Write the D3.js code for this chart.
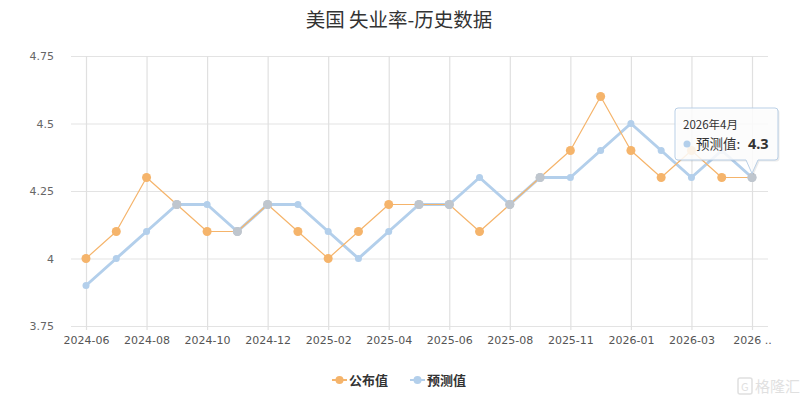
<!DOCTYPE html>
<html><head><meta charset="utf-8">
<script src="https://cdn.jsdelivr.net/npm/d3@7"></script>
<style>
html,body{margin:0;padding:0;background:#fff;}
svg{display:block;font-family:"Noto Sans CJK SC","Noto Sans",sans-serif;}
</style></head>
<body><svg id="c" width="800" height="404"></svg>
<script>
const title = "美国 失业率-历史数据";
const categories = ["2024-06","2024-07","2024-08","2024-09","2024-10","2024-11","2024-12",
  "2025-01","2025-02","2025-03","2025-04","2025-05","2025-06","2025-07","2025-08","2025-09",
  "2025-11","2025-12","2026-01","2026-02","2026-03","2026-04","2026-05"];
const tickLabels = ["2024-06","2024-08","2024-10","2024-12","2025-02","2025-04","2025-06",
  "2025-08","2025-11","2026-01","2026-03","2026 .."];
const tickCategories = ["2024-06","2024-08","2024-10","2024-12","2025-02","2025-04","2025-06",
  "2025-08","2025-11","2026-01","2026-03","2026-05"];
const actual = [4.0,4.1,4.3,4.2,4.1,4.1,4.2,4.1,4.0,4.1,4.2,4.2,4.2,4.1,4.2,4.3,4.4,4.6,4.4,4.3,4.4,4.3,4.3];
const forecast = [3.9,4.0,4.1,4.2,4.2,4.1,4.2,4.2,4.1,4.0,4.1,4.2,4.2,4.3,4.2,4.3,4.3,4.4,4.5,4.4,4.3,4.4,4.3];
const yTicks = [3.75,4,4.25,4.5,4.75];
const seriesNames = ["公布值","预测值"];
const tooltipTitle = "2026年4月";

const colA = "#f5b46b", colF = "#b3cfeb", colBoth = "#bfc6ce";
const svg = d3.select("#c");
const x = d3.scalePoint().domain(categories).range([86,752]);
const y = d3.scaleLinear().domain([3.75,4.75]).range([326,56]);

// title
svg.append("text").attr("x",399).attr("y",27).attr("text-anchor","middle")
  .attr("font-size",19.5).attr("fill","#333").attr("xml:space","preserve").text(title);

// horizontal grid
const yAxis = d3.axisLeft(y).tickValues(yTicks).tickSize(-(768-71)).tickFormat(d=>String(d));
const gy = svg.append("g").attr("transform","translate(71,0)").call(yAxis);
gy.select(".domain").remove();
gy.selectAll(".tick line").attr("stroke","#e3e3e3").attr("stroke-width",1.2);
gy.selectAll(".tick text").attr("x",-17).attr("font-size",11).attr("fill","#666")
  .attr("font-family","'DejaVu Sans',sans-serif");

// vertical grid + x labels
const xAxis = d3.axisBottom(x).tickValues(tickCategories).tickSize(-(330-56))
  .tickFormat((d,i)=>tickLabels[i]);
const gx = svg.append("g").attr("transform","translate(0,330)").call(xAxis);
gx.select(".domain").remove();
gx.selectAll(".tick line").attr("stroke","#e0e0e0").attr("stroke-width",1.2);
gx.selectAll(".tick text").attr("y",6).attr("font-size",11).attr("fill","#555")
  .attr("font-family","'DejaVu Sans',sans-serif");

// lines
const line = d3.line().x((d,i)=>x(categories[i])).y(d=>y(d));
svg.append("path").datum(forecast).attr("d",line).attr("fill","none")
  .attr("stroke",colF).attr("stroke-width",3).attr("stroke-linejoin","round");
svg.append("path").datum(actual).attr("d",line).attr("fill","none")
  .attr("stroke",colA).attr("stroke-width",1.2).attr("stroke-linejoin","round");

// markers
svg.append("g").selectAll("circle").data(actual).join("circle")
  .attr("cx",(d,i)=>x(categories[i])).attr("cy",d=>y(d)).attr("r",4.5)
  .attr("fill",(d,i)=> d===forecast[i] ? colBoth : colA);
svg.append("g").selectAll("circle").data(forecast).join("circle")
  .attr("cx",(d,i)=>x(categories[i])).attr("cy",d=>y(d))
  .attr("r",(d,i)=> d===actual[i] ? 4.5 : 3.5)
  .attr("fill",(d,i)=> d===actual[i] ? colBoth : colF);

// tooltip at last point
const li = categories.length-1;
const px = x(categories[li]), py = y(forecast[li]);
const tx0 = 675, tx1 = 778, ty0 = 108, ty1 = 160;
const tip = svg.append("g");
const tipPath = `M${tx0+3},${ty0} H${tx1-3} Q${tx1},${ty0} ${tx1},${ty0+3} V${ty1-3} Q${tx1},${ty1} ${tx1-3},${ty1}
  H${px+6} L${px},${py-4} L${px-6},${ty1} H${tx0+3} Q${tx0},${ty1} ${tx0},${ty1-3} V${ty0+3} Q${tx0},${ty0} ${tx0+3},${ty0} Z`;
tip.append("path").attr("d",tipPath).attr("transform","translate(1.5,1.5)")
  .attr("fill","rgba(0,0,0,0.08)");
tip.append("path").attr("d",tipPath).attr("fill","rgba(255,255,255,0.85)")
  .attr("stroke","#b9cfe6").attr("stroke-width",1);
tip.append("text").attr("x",683).attr("y",129).attr("font-size",11.5).attr("fill","#333").text(tooltipTitle);
tip.append("circle").attr("cx",687).attr("cy",144).attr("r",3.5).attr("fill",colF);
const t2 = tip.append("text").attr("x",696).attr("y",149).attr("fill","#333");
t2.append("tspan").attr("font-size",13.5).text(seriesNames[1]+":");
t2.append("tspan").attr("x",748).attr("font-size",14.5).attr("font-weight","bold")
  .attr("font-family","'Noto Sans',sans-serif").text(String(forecast[li]));

// legend
const leg = svg.append("g").attr("font-size",13).attr("font-weight","bold").attr("fill","#333");
[[332,colA,seriesNames[0]],[410,colF,seriesNames[1]]].forEach(([lx,c,n])=>{
  leg.append("line").attr("x1",lx).attr("x2",lx+15).attr("y1",380).attr("y2",380)
    .attr("stroke",c).attr("stroke-width",2);
  leg.append("circle").attr("cx",lx+7.5).attr("cy",380).attr("r",4).attr("fill",c);
  leg.append("text").attr("x",lx+17).attr("y",385).text(n);
});

// watermark
const wm = svg.append("g").attr("opacity",0.55);
wm.append("rect").attr("x",738).attr("y",378).attr("width",14).attr("height",16).attr("rx",2)
  .attr("fill","none").attr("stroke","#c8c8c8").attr("stroke-width",1.5);
wm.append("text").attr("x",741).attr("y",391).attr("font-size",11).attr("fill","#c8c8c8").text("G");
wm.append("text").attr("x",755).attr("y",392).attr("font-size",15).attr("fill","#c8c8c8").text("格隆汇");
</script></body></html>
